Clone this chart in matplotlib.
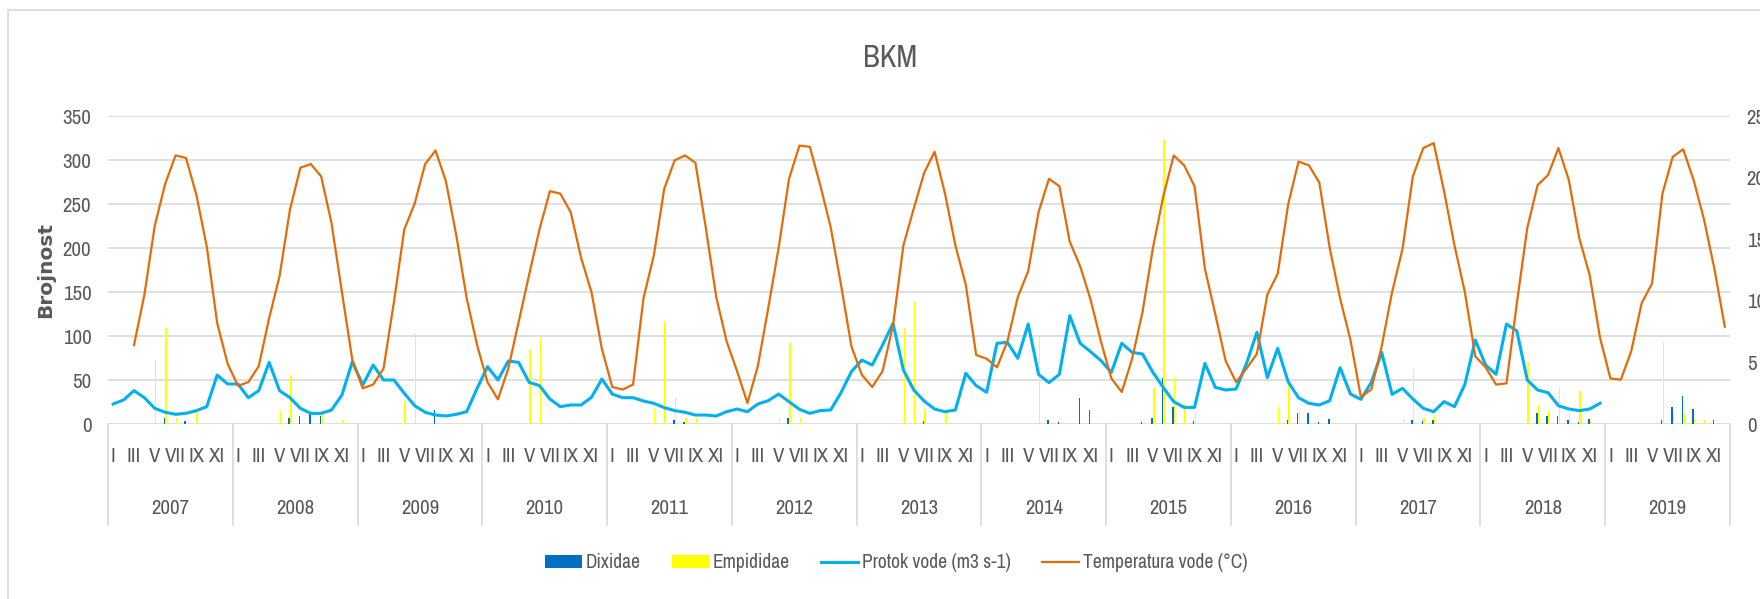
import numpy as np
import matplotlib
matplotlib.use("Agg")
import matplotlib.pyplot as plt
from matplotlib import font_manager
from matplotlib.patches import Rectangle
from matplotlib.transforms import blended_transform_factory

# ---- data -------------------------------------------------------------
years = list(range(2007, 2020))
months = ["I", "II", "III", "IV", "V", "VI", "VII", "VIII", "IX", "X", "XI", "XII"]
nan = np.nan

# Dixidae (Brojnost), one row per year, I..XII
dixidae = [
    0, 0, 0, 0, 0, 6.4, 0, 3.4, 0, 0, 0, 0,
    0, 0, 0, 0, 0, 6.4, 9.5, 13.3, 9.5, 0, 0, 0,
    0, 0, 0, 0, 0, 0, 0, 15.9, 0, 0, 0, 0,
    0, 0, 0, 0, 0, 0, 0, 0, 0, 0, 0, 0,
    0, 0, 0, 0, 0, 0, 4.5, 2.6, 0, 0, 0, 0,
    0, 0, 0, 0, 0, 6.4, 0, 0, 0, 0, 0, 0,
    0, 0, 0, 0, 0, 0, 3.0, 0, 0, 0, 0, 0,
    0, 0, 0, 0, 0, 0, 4.5, 2.6, 0, 29.2, 15.9, 0,
    0, 0, 0, 2.6, 6.4, 52.7, 19.7, 0, 3.4, 0, 0, 0,
    0, 0, 0, 0, 0, 4.5, 12.1, 12.1, 2.6, 5.7, 0, 0,
    0, 0, 0, 0, 0, 4.5, 3.4, 4.5, 0, 0, 0, 0,
    0, 0, 0, 0, 0, 12.1, 9.1, 9.1, 4.5, 2.6, 5.7, 0,
    0, 0, 0, 0, 0, 4.5, 19.7, 32.2, 17.0, 0, 4.5, 0,
]

# Empididae (Brojnost)
empididae = [
    0, 0, 0, 0, 72.7, 108.7, 6.4, 0, 13.3, 0, 0, 0,
    0, 0, 0, 0, 14.8, 55.7, 0, 0, 14.8, 0, 4.5, 0,
    0, 0, 0, 0, 26.1, 103.0, 0, 0, 0, 0, 0, 0,
    0, 0, 0, 0, 84.0, 99.2, 0, 0, 2.6, 0, 0, 0,
    0, 0, 0, 0, 17.0, 116.3, 29.2, 6.4, 6.4, 0, 0, 0,
    0, 0, 0, 0, 6.4, 91.7, 6.4, 0, 0, 0, 0, 0,
    0, 0, 0, 0, 108.7, 138.3, 17.0, 0, 12.1, 0, 0, 0,
    0, 0, 0, 0, 0, 101.0, 0, 0, 0, 0, 0, 0,
    0, 0, 0, 0, 41.3, 322.7, 53.8, 22.3, 12.1, 0, 0, 0,
    0, 0, 0, 0, 19.7, 50.0, 14.8, 4.5, 0, 0, 0, 0,
    0, 0, 0, 0, 5.7, 62.1, 7.2, 10.2, 0, 0, 0, 0,
    0, 0, 0, 0, 70.8, 21.6, 15.2, 41.7, 12.1, 37.5, 3.4, 0,
    0, 0, 0, 0, 0, 93.6, 14.0, 12.1, 5.7, 4.5, 0, 0,
]

# Protok vode, drawn on the Brojnost scale
protok = [
    22.7, 27.3, 37.9, 29.9, 17.8, 13.3, 11.0, 12.1, 15.2, 19.7, 55.7, 45.5,
    45.5, 29.9, 37.9, 70.0, 37.9, 29.9, 17.8, 12.1, 12.1, 15.9, 33.0, 70.8,
    44.3, 67.0, 50.0, 50.0, 34.8, 20.8, 13.3, 10.2, 9.1, 11.0, 14.0, 40.5,
    65.2, 50.0, 71.6, 70.0, 47.3, 43.6, 28.4, 19.7, 21.6, 21.6, 30.3, 51.1,
    34.0, 29.9, 29.9, 26.1, 23.5, 18.6, 15.2, 13.3, 10.2, 10.2, 9.1, 14.0,
    17.0, 14.0, 22.7, 26.5, 34.0, 25.4, 16.7, 12.1, 15.2, 15.9, 35.6, 59.5,
    72.7, 67.0, 89.8, 114.4, 61.4, 38.6, 26.0, 17.0, 14.0, 15.9, 57.6, 43.6,
    36.0, 91.7, 92.8, 74.6, 113.6, 56.4, 47.0, 56.4, 123.1, 91.7, 82.2, 72.0,
    58.7, 91.7, 81.4, 79.5, 58.7, 41.3, 25.4, 18.9, 18.9, 68.9, 41.7, 38.6,
    39.8, 68.9, 104.2, 52.7, 86.0, 48.1, 29.9, 23.5, 21.6, 26.5, 64.0, 34.0,
    28.0, 47.3, 81.4, 33.7, 40.5, 28.4, 17.8, 14.0, 25.4, 19.7, 45.0, 95.5,
    67.0, 56.4, 113.6, 105.7, 50.0, 38.6, 35.6, 20.8, 17.0, 15.2, 17.0, 23.5,
    nan, nan, nan, nan, nan, nan, nan, nan, nan, nan, nan, nan,
]

# Temperatura vode (°C), secondary axis
temperatura = [
    nan, nan, 6.4, 10.5, 16.1, 19.5, 21.8, 21.6, 18.6, 14.4, 8.2, 4.9,
    3.1, 3.4, 4.7, 8.6, 12.0, 17.4, 20.8, 21.1, 20.1, 16.3, 10.7, 5.2,
    2.9, 3.2, 4.5, 9.9, 15.8, 17.9, 21.1, 22.2, 19.7, 15.3, 10.2, 6.4,
    3.4, 2.0, 4.5, 8.3, 12.1, 15.8, 18.9, 18.7, 17.2, 13.5, 10.7, 6.1,
    3.0, 2.8, 3.2, 10.2, 13.7, 19.1, 21.4, 21.8, 21.2, 15.9, 10.3, 6.7,
    4.3, 1.7, 4.7, 9.4, 14.3, 19.9, 22.6, 22.5, 19.4, 16.0, 11.3, 6.3,
    4.0, 3.0, 4.3, 8.0, 14.5, 17.5, 20.4, 22.1, 18.7, 14.5, 11.3, 5.6,
    5.3, 4.6, 6.7, 10.3, 12.4, 17.2, 19.9, 19.3, 14.8, 12.8, 10.1, 6.7,
    3.7, 2.6, 5.3, 9.1, 14.3, 18.5, 21.8, 21.0, 19.3, 12.6, 8.9, 5.1,
    3.4, 4.5, 5.7, 10.5, 12.2, 17.8, 21.3, 21.0, 19.6, 14.3, 10.2, 6.8,
    2.2, 2.8, 6.3, 10.7, 14.2, 20.1, 22.4, 22.8, 18.9, 14.5, 10.7, 5.5,
    4.6, 3.2, 3.3, 9.8, 15.9, 19.4, 20.2, 22.4, 19.8, 15.1, 12.1, 7.0,
    3.7, 3.6, 5.9, 9.8, 11.4, 18.7, 21.7, 22.3, 19.8, 16.6, 12.6, 7.9,
]

# ---- fonts: the reference text is narrow (Calibri-like) ----------------
entries = font_manager.fontManager.ttflist
names = {f.name for f in entries}


def is_condensed(f):
    st = f.stretch
    if isinstance(st, str):
        return st in ("condensed", "semi-condensed", "extra-condensed")
    return st < 100


scale = 1.0
stretch = "normal"
if "Liberation Sans Narrow" in names:
    family = "Liberation Sans Narrow"
else:
    narrow_named = sorted(n for n in names if "Narrow" in n or "Condensed" in n)
    cond = sorted({f.name for f in entries if is_condensed(f)})
    if narrow_named:
        family = narrow_named[0]
    elif cond:
        family = "DejaVu Sans" if "DejaVu Sans" in cond else cond[0]
        stretch = "condensed"
        scale = 0.95
    else:
        family = "Liberation Sans"
        scale = 0.84
plt.rcParams["font.family"] = [family, "DejaVu Sans"]
plt.rcParams["font.stretch"] = stretch
FS = 15 * scale      # tick / category labels
FS_LEG = 14 * scale  # legend

TXT = "#595959"
GRID = "#D9D9D9"
C_DIX = "#0070C0"
C_EMP = "#FFFF00"
C_FLOW = "#00B0F0"
C_TEMP = "#E36C09"

# ---- figure -------------------------------------------------------------
W, H = 1760, 599
fig = plt.figure(figsize=(W / 100, H / 100), dpi=100)
ax = fig.add_axes([108 / W, 1 - 424 / H, 1622 / W, 308 / H])

x = np.arange(len(years) * 12)

b1 = ax.bar(x - 0.08, dixidae, width=0.14, color=C_DIX, label="Dixidae", zorder=2)
b2 = ax.bar(x + 0.08, empididae, width=0.14, color=C_EMP, label="Empididae", zorder=2)
l1, = ax.plot(x, protok, color=C_FLOW, lw=2.2, label="Protok vode (m3 s-1)", zorder=3)

ax.set_xlim(-0.5, len(x) - 0.5)
ax.set_ylim(0, 350)
ax.set_yticks(range(0, 351, 50))
ax.yaxis.grid(True, color=GRID, lw=1.2)
ax.set_axisbelow(True)
ax.set_xticks([])
for s in ax.spines.values():
    s.set_visible(False)
ax.tick_params(axis="y", length=0, pad=12, labelsize=FS, labelcolor=TXT)

ax2 = ax.twinx()
l2, = ax2.plot(x, temperatura, color=C_TEMP, lw=1.6, label="Temperatura vode (°C)", zorder=3)
ax2.set_ylim(0, 25)
ax2.set_yticks(range(0, 26, 5))
for s in ax2.spines.values():
    s.set_visible(False)
ax2.tick_params(axis="y", length=0, pad=12, labelsize=FS, labelcolor=TXT)

# multi-level category axis: months + years
tr = blended_transform_factory(ax.transData, ax.transAxes)
for i in x:
    m = i % 12
    if m % 2 == 0:
        ax.text(i, -0.107, months[m], transform=tr, ha="center", va="center",
                fontsize=FS, color=TXT, clip_on=False)
for k, yr in enumerate(years):
    ax.text(k * 12 + 5.5, -0.273, str(yr), transform=tr, ha="center", va="center",
            fontsize=FS, color=TXT, clip_on=False)
for k in range(len(years) + 1):
    ax.plot([k * 12 - 0.5] * 2, [0, -0.328], transform=tr, color=GRID, lw=1.2,
            clip_on=False, zorder=1)

# title, axis label, chart border
fig.text(890 / W, 1 - 58 / H, "BKM", ha="center", va="center", fontsize=22 * scale, color=TXT)
fig.text(46 / W, 1 - 270 / H, "Brojnost", rotation=90, ha="center", va="center",
         fontsize=14.5, fontweight="bold", color=TXT, family="DejaVu Sans",
         fontstretch="normal")
fig.add_artist(Rectangle((8 / W, -0.2), 1.2, 1.2 - 10 / H, transform=fig.transFigure,
                         fill=False, edgecolor=GRID, lw=1.2))

fig.legend([b1, b2, l1, l2], [b1.get_label(), b2.get_label(), l1.get_label(), l2.get_label()],
           loc="center", bbox_to_anchor=(896 / W, 1 - 563 / H),
           ncol=4, frameon=False, fontsize=FS_LEG, labelcolor=TXT, handlelength=1.9,
           handleheight=0.67, handletextpad=0.2, columnspacing=1.6)

fig.savefig("out.png", dpi=100)
